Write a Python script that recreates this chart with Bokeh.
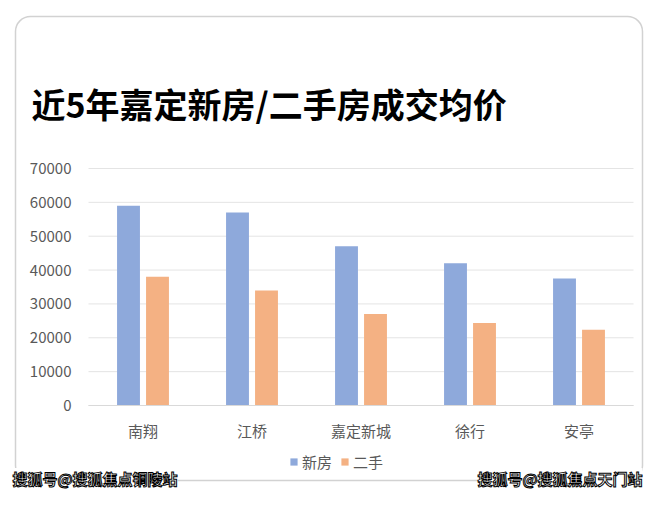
from bokeh.plotting import figure
from bokeh.models import (ColumnDataSource, Label, BoxAnnotation, Legend, LegendItem, Range1d,
                          FixedTicker, NumeralTickFormatter, LinearAxis)
from bokeh.embed import file_html
from bokeh.resources import INLINE

categories = ["南翔", "江桥", "嘉定新城", "徐行", "安亭"]
new_house = [59000, 57000, 47000, 42000, 37500]
second_hand = [38000, 34000, 27000, 24400, 22400]
y_ticks = [0, 10000, 20000, 30000, 40000, 50000, 60000, 70000]
title_text = "近5年嘉定新房/二手房成交均价"
series_names = ["新房", "二手"]
watermark_left = "搜狐号@搜狐焦点铜陵站"
watermark_right = "搜狐号@搜狐焦点天门站"

FONT = "Noto Sans CJK SC"
W, H = 644, 490

# plot area in figure pixels
PL, PR, PT, PB = 88, 633, 168, 405
n = len(categories)
xpx = (PR - PL) / n
ypx = (PB - PT) / y_ticks[-1]

xpos = [i + 0.5 for i in range(n)]
src = ColumnDataSource(dict(
    x_new=[x - 0.133 for x in xpos], x_old=[x + 0.133 for x in xpos],
    new=new_house, old=second_hand))

p = figure(width=W, height=H,
           x_range=Range1d(-PL / xpx, n + (W - PR) / xpx),
           y_range=Range1d(-(H - PB) / ypx, PB / ypx),
           x_axis_location=None, y_axis_location=None,
           output_backend="svg", toolbar_location=None,
           min_border=0)
p.outline_line_color = None
p.background_fill_color = "white"
p.border_fill_color = "white"
p.xgrid.visible = False
p.ygrid.visible = False

# gridlines
p.segment(x0=[0] * len(y_ticks), x1=[n] * len(y_ticks), y0=y_ticks, y1=y_ticks,
          line_color="#e4e4e4", line_width=1)

r1 = p.vbar(x="x_new", top="new", width=0.21, source=src, fill_color="#8EA9DB", line_color=None)
r2 = p.vbar(x="x_old", top="old", width=0.21, source=src, fill_color="#F4B183", line_color=None)

xaxis = LinearAxis(fixed_location=0, bounds=(0, n),
                   ticker=FixedTicker(ticks=xpos),
                   major_label_overrides={x: c for x, c in zip(xpos, categories)})
xaxis.axis_line_color = "#d9d9d9"
xaxis.major_tick_line_color = None
xaxis.minor_tick_line_color = None
xaxis.major_label_standoff = 8
p.add_layout(xaxis, "below")

yaxis = LinearAxis(fixed_location=0, bounds=(0, y_ticks[-1]),
                   ticker=FixedTicker(ticks=y_ticks),
                   formatter=NumeralTickFormatter(format="0"))
yaxis.axis_line_color = None
yaxis.major_tick_line_color = None
yaxis.minor_tick_line_color = None
yaxis.major_label_standoff = 11
p.add_layout(yaxis, "left")

for ax in (xaxis, yaxis):
    ax.major_label_text_font = FONT
    ax.major_label_text_font_size = "15px"
    ax.major_label_text_color = "#595959"

legend = Legend(items=[LegendItem(label=series_names[0], renderers=[r1]),
                       LegendItem(label=series_names[1], renderers=[r2])],
                orientation="horizontal", location=(289, 18),
                glyph_width=9, glyph_height=9, label_text_font=FONT,
                label_text_font_size="15px", label_text_color="#595959",
                border_line_color=None, background_fill_alpha=0,
                spacing=8, label_standoff=4, padding=0, margin=0)
p.add_layout(legend, "center")

card = BoxAnnotation(left=15, right=642, top=16, bottom=480,
                     left_units="canvas", right_units="canvas", top_units="canvas", bottom_units="canvas",
                     fill_alpha=0, line_color="#6b6b6b", line_width=1.5, border_radius=15)
p.add_layout(card)

p.add_layout(Label(x=31, y=103, x_units="canvas", y_units="canvas", text=title_text,
                   text_font=FONT, text_font_size="34px", text_font_style="bold",
                   text_color="#000000", text_baseline="middle"))

for txt, x, align in ((watermark_left, 12, "left"), (watermark_right, 642, "right")):
    p.add_layout(Label(x=x, y=478, x_units="canvas", y_units="canvas", text=txt,
                       text_font=FONT, text_font_size="15px", text_font_style="bold",
                       text_color="white", text_outline_color="black",
                       text_align=align, text_baseline="middle",
                       background_fill_color="white"))

open("out.html", "w").write(file_html(p, INLINE))
